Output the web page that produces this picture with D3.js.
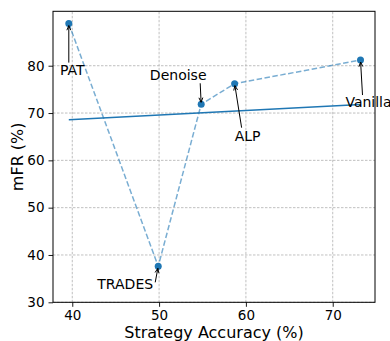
<!DOCTYPE html>
<html>
<head>
<meta charset="utf-8">
<script src="https://cdn.jsdelivr.net/npm/d3@7"></script>
<style>
  body { margin: 0; background: #fff; }
  svg { display: block; font-family: "DejaVu Sans", sans-serif; }
</style>
</head>
<body>
<div id="chart"></div>
<script>
// strategies, sorted by accuracy (the dashed line follows this order)
const names = ["PAT", "TRADES", "Denoise", "ALP", "Vanilla"];
const accuracy = [39.6, 49.9, 54.85, 58.7, 73.2];
const mfr = [88.9, 37.6, 71.85, 76.2, 81.2];

// trend line, two ends
const fitX = [39.6, 73.2];
const fitY = [68.6, 71.8];

const xTicks = [40, 50, 60, 70];
const yTicks = [30, 40, 50, 60, 70, 80];

// label placement, pixels from the point: text centre/baseline, arrow tail
const labelOffsets = {
    PAT:     { tx: 3.5, ty: 51, ax: 0, ay: 39 },
    TRADES:  { tx: -33, ty: 23, ax: -3, ay: 16 },
    Denoise: { tx: -23, ty: -24, ax: -1, ay: -21 },
    ALP:     { tx: 13, ty: 57, ax: 7, ay: 44 },
    Vanilla: { tx: 8, ty: 47, ax: 2, ay: 35 }
};

const width = 390, height = 341;
const margin = { top: 11.3, right: 15, bottom: 38.7, left: 53 };

const x = d3.scaleLinear([37.78, 74.87], [margin.left, width - margin.right]);
const y = d3.scaleLinear([30, 91.5], [height - margin.bottom, margin.top]);

const svg = d3.select("#chart").append("svg")
    .attr("width", width)
    .attr("height", height);

const blue = "#1f77b4";

// grid
const grid = svg.append("g")
    .attr("stroke", "#b0b0b0")
    .attr("stroke-width", 0.8)
    .attr("stroke-dasharray", "2.5,1.5");
grid.selectAll(".gx").data(xTicks).join("line")
    .attr("x1", d => x(d)).attr("x2", d => x(d))
    .attr("y1", y.range()[0]).attr("y2", y.range()[1]);
grid.selectAll(".gy").data(yTicks).join("line")
    .attr("y1", d => y(d)).attr("y2", d => y(d))
    .attr("x1", x.range()[0]).attr("x2", x.range()[1]);

// axes
const xAxis = svg.append("g")
    .attr("transform", `translate(0,${y.range()[0]})`)
    .call(d3.axisBottom(x).tickValues(xTicks).tickSize(4.5).tickPadding(4).tickSizeOuter(0));
const yAxis = svg.append("g")
    .attr("transform", `translate(${x.range()[0]},0)`)
    .call(d3.axisLeft(y).tickValues(yTicks).tickSize(4.5).tickPadding(4).tickSizeOuter(0));
[xAxis, yAxis].forEach(a => {
    a.select(".domain").remove();
    a.selectAll("text").attr("font-family", "DejaVu Sans").attr("font-size", 13.5).attr("fill", "#000");
    a.selectAll("line").attr("stroke", "#000").attr("stroke-width", 0.9);
});

// frame
svg.append("rect")
    .attr("x", x.range()[0]).attr("y", y.range()[1])
    .attr("width", x.range()[1] - x.range()[0])
    .attr("height", y.range()[0] - y.range()[1])
    .attr("fill", "none").attr("stroke", "#000").attr("stroke-width", 1);

// trend line
const fit = fitX.map((v, i) => [v, fitY[i]]);
svg.append("path")
    .datum(fit)
    .attr("fill", "none")
    .attr("stroke", blue)
    .attr("stroke-width", 1.5)
    .attr("d", d3.line().x(d => x(d[0])).y(d => y(d[1])));

const pts = names.map((n, i) => ({ name: n, acc: accuracy[i], mfr: mfr[i] }));

// dashed connection
svg.append("path")
    .datum(pts)
    .attr("fill", "none")
    .attr("stroke", blue)
    .attr("stroke-opacity", 0.6)
    .attr("stroke-width", 1.5)
    .attr("stroke-dasharray", "5.5,2.5")
    .attr("d", d3.line().x(d => x(d.acc)).y(d => y(d.mfr)));

// points
svg.append("g")
    .attr("fill", blue)
    .selectAll("circle")
    .data(pts)
    .join("circle")
    .attr("cx", d => x(d.acc))
    .attr("cy", d => y(d.mfr))
    .attr("r", 3.5);

// annotations
const ann = svg.append("g").selectAll("g").data(pts).join("g");
ann.each(function(d) {
    const g = d3.select(this);
    const o = labelOffsets[d.name];
    const px = x(d.acc), py = y(d.mfr);
    const sx = px + o.ax, sy = py + o.ay;
    const ang = Math.atan2(py - sy, px - sx);
    const len = Math.hypot(px - sx, py - sy);
    const ex = sx + Math.cos(ang) * (len - 2), ey = sy + Math.sin(ang) * (len - 2);
    g.append("line")
        .attr("x1", sx).attr("y1", sy).attr("x2", ex).attr("y2", ey)
        .attr("stroke", "#000").attr("stroke-width", 1);
    const h = 5, w = 0.4;
    g.append("path")
        .attr("d", `M${ex - h * Math.cos(ang - w)},${ey - h * Math.sin(ang - w)}L${ex},${ey}L${ex - h * Math.cos(ang + w)},${ey - h * Math.sin(ang + w)}`)
        .attr("fill", "none").attr("stroke", "#000").attr("stroke-width", 1);
    g.append("text")
        .attr("x", px + o.tx).attr("y", py + o.ty)
        .attr("text-anchor", "middle")
        .attr("font-size", 14)
        .text(d.name);
});

// axis titles
svg.append("text")
    .attr("x", (x.range()[0] + x.range()[1]) / 2)
    .attr("y", 338)
    .attr("text-anchor", "middle")
    .attr("font-size", 16)
    .text("Strategy Accuracy (%)");
svg.append("text")
    .attr("transform", `translate(23,${(y.range()[0] + y.range()[1]) / 2}) rotate(-90)`)
    .attr("text-anchor", "middle")
    .attr("font-size", 16)
    .text("mFR (%)");
</script>
</body>
</html>
